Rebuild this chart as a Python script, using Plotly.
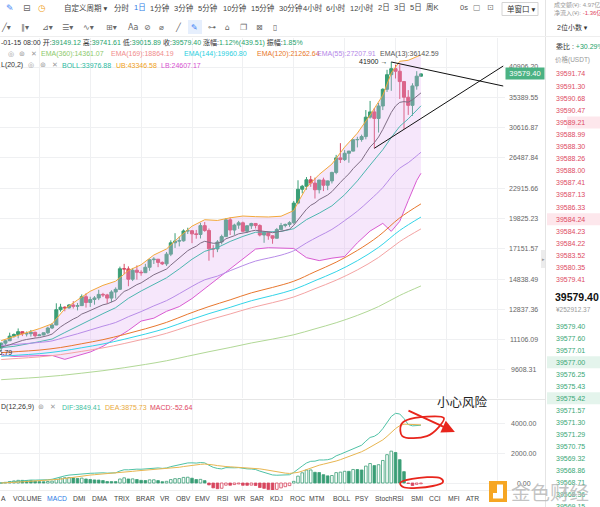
import math
import plotly.graph_objects as go

W, H = 600, 507
FONT = "Liberation Sans, Noto Sans CJK SC, DejaVu Sans, sans-serif"
CJK = "Noto Sans CJK SC, Liberation Sans, sans-serif"
SYM = "DejaVu Sans, Noto Sans CJK SC, sans-serif"

# ====================== DATA (daily BTC/USDT, 2020-10-08 .. 2021-01-15) ======================
open_ = [10670, 10925, 11050, 11296, 11384, 11540, 11425, 11430, 11505, 11320,
         11360, 11480, 11745, 11915, 12820, 12975, 12930, 13110, 13030, 13070,
         13640, 13270, 13460, 13560, 13790, 13760, 13550, 13950, 14130, 15590,
         15580, 14830, 15480, 15330, 15300, 15700, 16280, 16320, 16070, 15960,
         16720, 17650, 17800, 17820, 18680, 18700, 18420, 18370, 19160, 18720,
         17150, 17140, 17720, 18180, 19700, 18760, 19210, 19420, 18650, 19150,
         19360, 19170, 18320, 18550, 18250, 18040, 18800, 19170, 19270, 19430,
         21340, 22800, 23130, 23860, 23480, 22750, 23830, 23240, 23730, 24710,
         26490, 26280, 27080, 27360, 28890, 28920, 29330, 32180, 33000, 31990,
         33950, 36770, 39430, 40580, 40090, 38150, 35400, 34050, 37370, 39149.12]
high_ = [10955, 11104, 11485, 11445, 11720, 11557, 11547, 11635, 11540, 11420,
         11488, 11820, 12020, 13217, 13185, 13027, 13164, 13350, 13240, 13790,
         13860, 13640, 13680, 14100, 13895, 13830, 14070, 14260, 15750, 15960,
         15770, 15650, 15840, 15480, 15960, 16340, 16480, 16330, 16140, 16890,
         17860, 18480, 18180, 18820, 18970, 18750, 18770, 19420, 19490, 18900,
         17450, 17880, 18350, 19860, 19920, 19340, 19600, 19530, 19180, 19420,
         19390, 19290, 18640, 18560, 18290, 18950, 19410, 19350, 19570, 21560,
         23800, 23280, 24170, 24300, 24100, 23840, 24100, 23780, 24790, 26870,
         28420, 27500, 27400, 29000, 29300, 29600, 33300, 34780, 33600, 34440,
         36940, 40360, 41900, 41360, 41350, 38260, 36630, 37850, 40100, 39741.61]
low_ = [10530, 10820, 11050, 11210, 11178, 11300, 11280, 11270, 11220, 11300,
        11343, 11400, 11685, 11900, 12700, 12720, 12880, 12890, 12775, 13050,
        12950, 12990, 13130, 13420, 13620, 13200, 13290, 13520, 14090, 15200,
        14340, 14700, 14800, 15080, 15280, 15440, 15950, 15710, 15870, 15800,
        16560, 17220, 17350, 17750, 18410, 17620, 18000, 18020, 18600, 16200,
        16460, 16880, 17520, 18180, 18320, 18330, 18870, 18570, 18500, 18860,
        18900, 18200, 17650, 17910, 17570, 18020, 18730, 19000, 19050, 19290,
        21230, 22350, 22750, 23060, 21810, 22350, 22600, 22700, 23440, 24500,
        25850, 26100, 25880, 27320, 27850, 28620, 28950, 31960, 27730, 29900,
        33290, 36300, 36500, 38720, 35110, 30420, 32530, 32380, 36700, 39015.89]
close_ = [10925, 11050, 11296, 11384, 11540, 11425, 11430, 11505, 11320, 11360,
          11480, 11745, 11915, 12820, 12975, 12930, 13110, 13030, 13070, 13640,
          13270, 13460, 13560, 13790, 13760, 13550, 13950, 14130, 15590, 15580,
          14830, 15480, 15330, 15300, 15700, 16280, 16320, 16070, 15960, 16720,
          17650, 17800, 17820, 18680, 18700, 18420, 18370, 19160, 18720, 17150,
          17140, 17720, 18180, 19700, 18760, 19210, 19420, 18650, 19150, 19360,
          19170, 18320, 18550, 18250, 18040, 18800, 19170, 19270, 19430, 21340,
          22800, 23130, 23860, 23480, 22750, 23830, 23240, 23730, 24710, 26490,
          26280, 27080, 27360, 28890, 28920, 29330, 32180, 33000, 31990, 33950,
          36770, 39430, 40580, 40090, 38150, 35400, 34050, 37370, 39150, 39579.40]

ema13 = [10715, 10763, 10839, 10917, 11006, 11066, 11118, 11173, 11194, 11218,
         11255, 11325, 11409, 11611, 11806, 11966, 12130, 12258, 12374, 12555,
         12657, 12772, 12885, 13014, 13121, 13182, 13292, 13412, 13723, 13988,
         14108, 14304, 14451, 14572, 14733, 14954, 15149, 15281, 15378, 15570,
         15867, 16143, 16383, 16711, 16995, 17199, 17366, 17622, 17779, 17689,
         17611, 17627, 17706, 17991, 18101, 18259, 18425, 18457, 18556, 18671,
         18742, 18682, 18663, 18604, 18523, 18563, 18650, 18738, 18837, 19195,
         19710, 20199, 20722, 21116, 21349, 21704, 21923, 22181, 22542, 23106,
         23560, 24063, 24534, 25156, 25694, 26213, 27066, 27914, 28496, 29275,
         30346, 31644, 32920, 33945, 34545, 34667, 34579, 34978, 35574, 36142.59]

line_idx = [0, 3, 9, 12, 15, 18, 21, 24, 27, 30, 33, 36, 39, 42, 45, 48, 51, 54, 57, 60,
            63, 66, 69, 70, 72, 75, 78, 81, 84, 87, 90, 92, 94, 96, 98, 99]
boll_mid = [10692, 10758, 11001, 11142, 11492, 11849, 12235, 12580, 12943, 13535,
            14017, 14481, 14930, 15580, 16316, 16945, 17250, 17766, 18197, 18564,
            18605, 18631, 18882, 19160, 19719, 20339, 21062, 22212, 23728, 25592,
            27549, 29200, 30800, 31919, 33323, 33976.88]
boll_ub = [11057, 11264, 11710, 11982, 12870, 13430, 14000, 14400, 14690, 15460,
           15890, 16650, 17140, 18150, 19110, 19710, 19640, 19890, 20060, 20000,
           19970, 20040, 20590, 21410, 23000, 24470, 25720, 27890, 29810, 32510,
           35730, 39760, 42040, 42240, 42870, 43346.58]
boll_lb = [10328, 10251, 10290, 10300, 10110, 10270, 10470, 10760, 11200, 11610,
           12140, 12310, 12720, 13010, 13520, 14180, 14860, 15640, 16340, 17130,
           17240, 17230, 17180, 16920, 16440, 16210, 16400, 16530, 17650, 18670,
           19370, 18640, 19560, 21600, 23780, 24607.17]
ema55 = [10805, 10850, 10963, 11041, 11235, 11424, 11634, 11848, 12059, 12396,
         12703, 13055, 13386, 13838, 14330, 14787, 15052, 15448, 15824, 16176,
         16403, 16639, 16990, 17198, 17640, 18231, 18818, 19625, 20533, 21672,
         22977, 24172, 25219, 25885, 26755, 27207.91]

long_idx = [0, 4, 9, 14, 19, 24, 29, 34, 39, 44, 49, 54, 59, 64, 69, 74, 79, 84, 89, 94, 99]
ema120 = [10438, 10495, 10568, 10698, 10894, 11108, 11384, 11699, 12065, 12550, 13014,
          13437, 13894, 14260, 14687, 15368, 16090, 17019, 18224, 19886, 21262.64]
ema144 = [10259, 10316, 10389, 10510, 10687, 10881, 11128, 11410, 11736, 12165, 12581,
          12965, 13381, 13722, 14116, 14726, 15376, 16203, 17269, 18727, 19960.80]
ema169 = [10100, 10158, 10230, 10343, 10504, 10680, 10903, 11158, 11451, 11835, 12210,
          12560, 12939, 13257, 13622, 14173, 14760, 15504, 16457, 17752, 18864.19]
ema360 = [9173, 9220, 9280, 9359, 9463, 9576, 9713, 9867, 10042, 10264, 10486,
          10701, 10933, 11139, 11371, 11696, 12044, 12474, 13012, 13724, 14361.07]

dif = [1, 28, 67, 105, 146, 167, 182, 197, 193, 190,
       196, 218, 248, 340, 421, 476, 528, 556, 575, 629,
       634, 646, 656, 675, 680, 659, 668, 680, 800, 883,
       878, 916, 923, 917, 932, 981, 1010, 1003, 976, 1004,
       1090, 1156, 1197, 1282, 1337, 1343, 1328, 1364, 1342, 1183,
       1045, 971, 939, 1024, 1004, 1013, 1025, 962, 942, 931,
       897, 792, 720, 631, 537, 518, 527, 536, 550, 706,
       937, 1134, 1333, 1445, 1456, 1536, 1533, 1553, 1628, 1811,
       1917, 2042, 2139, 2313, 2425, 2518, 2789, 3036, 3113, 3295,
       3624, 4054, 4436, 4646, 4601, 4296, 3899, 3810, 3838, 3849.41]
dea = [0, 6, 18, 35, 57, 79, 100, 119, 134, 145,
       155, 168, 184, 215, 256, 300, 346, 388, 425, 466,
       500, 529, 554, 578, 599, 611, 622, 634, 667, 710,
       744, 778, 807, 829, 850, 876, 903, 923, 934, 948,
       976, 1012, 1049, 1096, 1144, 1184, 1213, 1243, 1263, 1247,
       1207, 1160, 1115, 1097, 1079, 1065, 1057, 1038, 1019, 1002,
       981, 943, 898, 845, 783, 730, 690, 659, 637, 651,
       708, 793, 901, 1010, 1099, 1187, 1256, 1315, 1378, 1465,
       1555, 1652, 1750, 1862, 1975, 2084, 2225, 2387, 2532, 2685,
       2873, 3109, 3374, 3629, 3823, 3918, 3914, 3893, 3882, 3875.73]
macd_hist = [2, 44, 98, 140, 178, 176, 164, 156, 118, 90,
             82, 100, 128, 250, 330, 352, 364, 336, 300, 326,
             268, 234, 204, 194, 162, 96, 92, 92, 266, 346,
             268, 276, 232, 176, 164, 210, 214, 160, 84, 112,
             228, 288, 296, 372, 386, 318, 230, 242, 158, -128,
             -324, -378, -352, -146, -150, -104, -64, -152, -154, -142,
             -168, -302, -356, -428, -492, -424, -326, -246, -174, 110,
             458, 682, 864, 870, 714, 698, 554, 476, 500, 692,
             724, 780, 778, 902, 900, 868, 1128, 1298, 1162, 1220,
             1502, 1890, 2124, 2034, 1556, 756, -30, -166, -88, -52.64]

price_ticks = [40906.20, 35389.55, 30616.87, 26487.84, 22915.66, 19825.23,
               17151.57, 14838.49, 12837.36, 11106.09, 9608.31]
macd_ticks = [0, 2000, 4000]
last_price = 39579.40
high_mark = 41900
low_mark_text = "10546.79"
low_mark_val = 10430

# user-drawn trend lines (day index, price)
trend_a = ([92, 118.4], [41900, 37350])
trend_b = ([88, 118.4], [27730, 41100])
# red hand drawings in MACD pane (day index, macd value)
warn_arrow = ((95.7, 4870), (107.0, 3400))
loop1 = ([94.3, 95.7, 104.4, 103.2, 100.4, 94.6, 94.3], [3870, 4200, 4330, 3730, 3130, 3130, 3870])
loop2 = ([94.1, 96.9, 103.5, 104.2, 101.8, 94.8, 94.1], [0, 270, 330, 70, -200, -270, 0])

asks = ["39591.74", "39591.30", "39590.68", "39590.47", "39589.21", "39588.99",
        "39588.30", "39588.26", "39588.00", "39587.41", "39587.13", "39586.33",
        "39584.24", "39584.23", "39584.22", "39583.52", "39580.35", "39579.41"]
bids = ["39579.40", "39577.60", "39577.01", "39577.00", "39576.25", "39575.43",
        "39575.42", "39571.57", "39571.30", "39571.29", "39570.75", "39569.32",
        "39568.86", "39568.71", "39568.36", "39569.15"]

period_tabs = ["自定义周期 ▾", "分时", "1日", "1分钟", "3分钟", "5分钟", "10分钟", "15分钟",
               "30分钟", "4小时", "6小时", "12小时", "2日", "3日", "5日", "周K"]
indicator_tabs = ["A", "VOLUME", "MACD", "DMI", "DMA", "TRIX", "BRAR", "VR", "OBV", "EMV",
                  "RSI", "WR", "SAR", "KDJ", "ROC", "MTM", "BOLL", "PSY", "StochRSI",
                  "SMI", "CCI", "MFI", "ATR"]

# ====================== LAYOUT CONSTANTS ======================
PLOT_R = 505
X0_PX, DAY_PX = 1.2, 4.24
x_range = [(0 - X0_PX) / DAY_PX, (PLOT_R - X0_PX) / DAY_PX]
MAIN_TOP, MAIN_BOT = 38, 398
REF_PX, REF_VAL, PX_DEC = 67, 40906.2, 481.6
y_top = math.log10(REF_VAL) + (REF_PX - MAIN_TOP) / PX_DEC
y_bot = math.log10(REF_VAL) - (MAIN_BOT - REF_PX) / PX_DEC
MACD_TOP, MACD_BOT, MACD_ZERO, MACD_PPX = 400, 491, 483, 2000 / 30
m_lo = -(MACD_BOT - MACD_ZERO) * MACD_PPX
m_hi = (MACD_ZERO - MACD_TOP) * MACD_PPX

G, R = "#3a9e76", "#d8465f"
GRID = "#eff0f2"

def px(x):
    return x / W

def py(y):
    return 1 - y / H

fig = go.Figure()
X = list(range(len(close_)))

def L(xs, ys, color, shape="linear", width=1, **kw):
    fig.add_trace(go.Scatter(x=xs, y=ys, mode="lines",
                             line=dict(color=color, width=width, shape=shape),
                             hoverinfo="skip", showlegend=False, **kw))

# Bollinger band + fill
L(line_idx, boll_lb, "#d95bd2")
L(line_idx, boll_ub, "#f3a93b", fill="tonexty", fillcolor="rgba(226,176,243,0.30)")
# long EMAs
L(long_idx, ema360, "#b1d896", "spline")
L(long_idx, ema169, "#f4a3a3", "spline")
L(long_idx, ema144, "#33d4e8", "spline")
L(long_idx, ema120, "#e8772e", "spline")
L(line_idx, boll_mid, "#4db6b0")
L(line_idx, ema55, "#b88ce8", "spline")
L(X, ema13, "#7f6d85")

fig.add_trace(go.Candlestick(
    x=X, open=open_, high=high_, low=low_, close=close_,
    increasing=dict(line=dict(color=G, width=1), fillcolor=G),
    decreasing=dict(line=dict(color=R, width=1), fillcolor=R),
    whiskerwidth=0, hoverinfo="skip", showlegend=False))

L(trend_a[0], trend_a[1], "#111111")
L(trend_b[0], trend_b[1], "#111111")

# MACD pane
fills, outlines = [], []
for i, v in enumerate(macd_hist):
    prev = macd_hist[i - 1] if i else 0
    col = G if v >= 0 else R
    outlines.append(col)
    fills.append("white" if v > prev else col)
fig.add_trace(go.Bar(x=X, y=macd_hist, xaxis="x2", yaxis="y2", width=0.62,
                     marker=dict(color=fills, line=dict(color=outlines, width=0.8)),
                     hoverinfo="skip", showlegend=False))
L(X, dif, "#4fc2a6", xaxis="x2", yaxis="y2")
L(X, dea, "#e8b651", xaxis="x2", yaxis="y2")
L(loop1[0], loop1[1], "#e8251c", "spline", 1.8, xaxis="x2", yaxis="y2")
L(loop2[0], loop2[1], "#e8251c", "spline", 1.8, xaxis="x2", yaxis="y2")

# ====================== SHAPES ======================
shapes = []

def rect(x0, y0, x1, y1, fill, line=None, layer="below"):
    shapes.append(dict(type="rect", xref="paper", yref="paper", x0=px(x0), x1=px(x1),
                       y0=py(y0), y1=py(y1), fillcolor=fill, layer=layer,
                       line=dict(width=1 if line else 0, color=line or fill)))

def seg(x0, y0, x1, y1, color, width=1):
    shapes.append(dict(type="line", xref="paper", yref="paper", x0=px(x0), x1=px(x1),
                       y0=py(y0), y1=py(y1), line=dict(color=color, width=width), layer="above"))

seg(545.5, 0, 545.5, H, "#e4e4e4")
seg(0, 36.5, 545, 36.5, "#eeeeee")
seg(545, 36.5, W, 36.5, "#eeeeee")
seg(0, 399.5, 545, 399.5, "#e6e6e6")
seg(0, 490.5, 545, 490.5, "#eeeeee")
rect(502, 2.5, 538, 15.5, "white", "#d4d4d4")
rect(188, 20, 202, 34, "#e6effd")
rect(541, 250, 545, 268, "#ececec", layer="above")
# order book highlight rows
ASK_Y0, ROW = 74, 12.1
BID_Y0 = 326
for i, wx in ((4, 567), (12, 547)):
    yy = ASK_Y0 + ROW * i
    rect(wx, yy - 6, W, yy + 6, "#fde7ec")
for i in (3, 6):
    yy = BID_Y0 + 12.05 * i
    rect(547, yy - 6, W, yy + 6, "#e4f4ec")
# watermark logo
rect(489, 481, 507, 502, "#f6a623", layer="above")
rect(497, 484.5, 503, 497, "white", layer="above")
rect(493, 493, 503, 498.5, "white", layer="above")

# ====================== ANNOTATIONS ======================
ann = []

def T(x, y, s, size=7, color="#333", anchor="left", family=FONT, **kw):
    ann.append(dict(x=px(x), y=py(y), xref="paper", yref="paper", text=s, showarrow=False,
                    xanchor=anchor, yanchor="middle", borderpad=0,
                    font=dict(size=size, color=color, family=family), **kw))

# toolbar row 1
T(5, 8, "✎", 9, "#3b82f6", family=SYM)
T(22, 8, "⊟", 9, "#666", family=SYM)
T(37, 8, "◷", 9, "#f0a020", family=SYM)
period_x = [63, 113, 133, 149, 173, 197, 222, 250, 278, 302, 325, 349, 377, 393, 409, 425]
for s, xx in zip(period_tabs, period_x):
    T(xx, 8, s, 7.5, "#2d7be5" if s == "1日" else "#444")
T(459, 8, "0s", 7.5, "#555")
T(472, 8, "▢", 8, "#777", family=SYM)
T(486, 8, "⊡", 8, "#777", family=SYM)
T(506, 9, "单窗口 ▾", 7.5, "#333")
# toolbar row 2 (drawing tools)
tools = [("╱▾", 0), ("∥▾", 20), ("⊿▾", 41), ("☰▾", 61), ("∿▾", 82), ("⊞▾", 105),
         ("Aa", 127), ("⊘", 143), ("⌀", 158), ("╱", 174), ("✎", 190), ("⊶", 207),
         ("⌂", 224), ("❐", 239), ("⊠", 255), ("▯", 272)]
for s, xx in tools:
    T(xx, 27, s, 8, "#3b82f6" if s == "✎" else "#666", family=SYM)

# legend lines
GN = "#26a26b"
info = ('-01-15 08:00 开:<span style="color:%s">39149.12</span> 高:<span style="color:%s">39741.61</span>'
        ' 低:<span style="color:%s">39015.89</span> 收:<span style="color:%s">39579.40</span>'
        ' 涨幅:<span style="color:%s">1.12%%(439.51)</span> 振幅:<span style="color:%s">1.85%%</span>') % ((GN,) * 6)
T(0, 43, info, 7, "#333")
for s, xx in (("◎", 7), ("⊚", 18), ("✕", 30)):
    T(xx, 54, s, 7, "#999", family=SYM)
ema_leg = [("EMA(360):14361.07", 40, "#8cc96b"), ("EMA(169):18864.19", 110, "#f08c8c"),
           ("EMA(144):19960.80", 183, "#29cfe0"), ("EMA(120):21262.64", 256, "#e8782a"),
           ("EMA(55):27207.91", 316, "#b487e8"), ("EMA(13):36142.59", 379, "#555555")]
for s, xx, c in ema_leg:
    T(xx, 54, s, 7, c)
T(0, 65, "L(20,2)", 7, "#333")
for s, xx in (("◎", 27), ("⊚", 39), ("✕", 51)):
    T(xx, 65, s, 7, "#999", family=SYM)
for s, xx, c in (("BOLL:33976.88", 61, "#2bb99f"), ("UB:43346.58", 115, "#f0a020"),
                 ("LB:24607.17", 160, "#d650d0")):
    T(xx, 65, s, 7, c)
T(0, 407, "D(12,26,9)", 7, "#333")
for s, xx in (("⊚", 37), ("✕", 49)):
    T(xx, 407, s, 7, "#999", family=SYM)
for s, xx, c in (("DIF:3849.41", 61, "#3fbf9f"), ("DEA:3875.73", 104, "#e9a93a"),
                 ("MACD:-52.64", 149, "#e0455e")):
    T(xx, 407, s, 7, c)

# price axis labels (centred like the reference)
for v in price_ticks:
    ann.append(dict(x=px(523.5), y=math.log10(v), xref="paper", yref="y", text="%.2f" % v,
                    showarrow=False, xanchor="center", yanchor="middle",
                    font=dict(size=7, color="#666", family=FONT)))
for v in macd_ticks:
    ann.append(dict(x=px(523.5), y=v, xref="paper", yref="y2", text="%.2f" % v,
                    showarrow=False, xanchor="center", yanchor="middle",
                    font=dict(size=7, color="#666", family=FONT)))
# current price tag
ann.append(dict(x=px(525), y=math.log10(last_price), xref="paper", yref="y", text="%.2f" % last_price,
                showarrow=False, xanchor="center", yanchor="middle", bgcolor="#4bb283",
                width=38, height=11, borderpad=0, font=dict(size=7.5, color="white", family=FONT)))
# high / low marks
ann.append(dict(x=px(389), y=math.log10(high_mark), xref="paper", yref="y", text="%d →" % high_mark,
                showarrow=False, xanchor="right", yanchor="middle",
                font=dict(size=7, color="#222", family=FONT)))
ann.append(dict(x=px(14), y=math.log10(low_mark_val), xref="paper", yref="y", text=low_mark_text,
                showarrow=False, xanchor="right", yanchor="middle",
                font=dict(size=7, color="#333", family=FONT)))
# red warning arrow
ann.append(dict(x=warn_arrow[1][0], y=warn_arrow[1][1], xref="x2", yref="y2",
                ax=warn_arrow[0][0], ay=warn_arrow[0][1], axref="x2", ayref="y2",
                text="", showarrow=True, arrowhead=2, arrowsize=1.3, arrowwidth=2,
                arrowcolor="#e8251c"))
T(463, 401, "小心风险", 12.5, "#222", anchor="center", family=CJK)

# right panel
T(553, 4.5, "成交额(¥): 4.97亿", 6, "#999")
T(553, 13, '净流入(¥): <span style="color:#e0455e">-1.36亿</span>', 6, "#999")
T(556, 27, "2位小数 ▾", 7, "#333")
T(555, 46, '委比 : <span style="color:#26a26b">+30.29%</span>', 7, "#333")
T(554, 60, "价格(USDT)", 6.5, "#999")
for i, s in enumerate(asks):
    T(555, ASK_Y0 + ROW * i, s, 7, "#dd4b63")
T(554, 297, "39579.40", 10.5, "#111", family="Liberation Sans, sans-serif")
ann[-1]["font"]["weight"] = "bold"
T(555, 309.5, "¥252912.37", 6.5, "#999")
for i, s in enumerate(bids):
    T(555, BID_Y0 + 12.05 * i, s, 7, "#3aa776")
T(543.5, 259, "▸", 5, "#999", anchor="center", family=SYM)

# indicator tabs
tab_x = [0, 12, 46, 72, 91, 113, 135, 159, 175, 194, 216, 233, 249, 269, 289, 308, 332,
         354, 374, 410, 428, 447, 465]
for s, xx in zip(indicator_tabs, tab_x):
    T(xx, 498.5, s, 6.8, "#2d7be5" if s == "MACD" else "#444")

# watermark text (on top)
T(510, 491.5, "金色财经", 19.5, "rgba(185,185,185,0.85)", family=CJK)

fig.update_layout(
    width=W, height=H, autosize=False, margin=dict(l=0, r=0, t=0, b=0, pad=0),
    paper_bgcolor="white", plot_bgcolor="white", showlegend=False, hovermode=False,
    boxgap=0.2, boxgroupgap=0.1,
    xaxis=dict(domain=[0, px(PLOT_R)], range=x_range, showticklabels=False, ticks="",
               showgrid=True, gridcolor=GRID, tick0=9, dtick=12, zeroline=False,
               rangeslider=dict(visible=False), showline=False, anchor="y"),
    yaxis=dict(domain=[py(MAIN_BOT), py(MAIN_TOP)], type="log", range=[y_bot, y_top],
               tickvals=price_ticks, showticklabels=False, ticks="", showgrid=True,
               gridcolor=GRID, zeroline=False, showline=False, anchor="x"),
    xaxis2=dict(domain=[0, px(PLOT_R)], range=x_range, showticklabels=False, ticks="",
                showgrid=True, gridcolor=GRID, tick0=9, dtick=12, zeroline=False,
                showline=False, anchor="y2"),
    yaxis2=dict(domain=[py(MACD_BOT), py(MACD_TOP)], range=[m_lo, m_hi], tickvals=macd_ticks,
                showticklabels=False, ticks="", showgrid=True, gridcolor=GRID,
                zeroline=False, showline=False, anchor="x2"),
    shapes=shapes, annotations=ann,
)

fig.write_html("out.html", config={"displayModeBar": False},
               post_script="document.body.style.margin='0';document.body.style.padding='0';"
                           "document.body.style.overflow='hidden';")
